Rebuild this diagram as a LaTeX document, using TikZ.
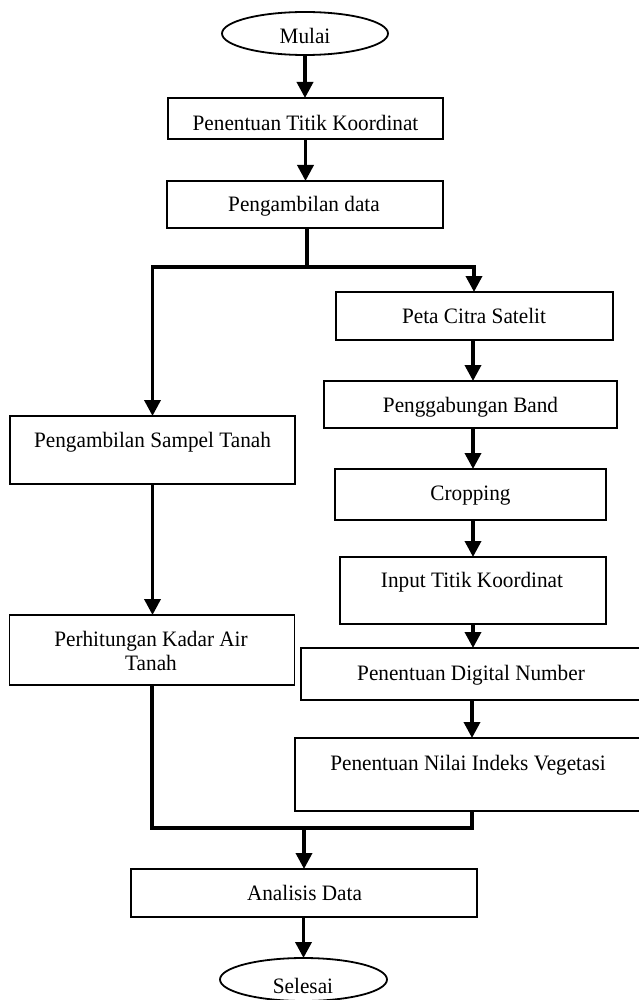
\documentclass[tikz,border=0pt]{standalone}
\usepackage{fontspec}
\setmainfont{Liberation Serif}[FakeStretch=0.965]
\usetikzlibrary{arrows.meta,shapes.geometric}
\begin{document}
\begin{tikzpicture}[x=1pt,y=-1pt,
  box/.style={draw, line width=1.8pt, rectangle, inner sep=0pt, outer sep=0pt},
  term/.style={draw, line width=1.8pt, ellipse, inner sep=0pt, outer sep=0pt},
  lbl/.style={anchor=base, inner sep=0pt, font=\fontsize{22}{24}\selectfont},
  conn/.style={line width=3.6pt},
  arr/.style={conn, -{Triangle[length=16pt,width=16pt]}},
  arr2/.style={conn, {Triangle[length=16pt,width=16pt]}-{Triangle[length=16pt,width=16pt]}},
]
\useasboundingbox (0,0) rectangle (638,1000);
\fill[white] (0,0) rectangle (638,1000);

% centre column
\node[term, minimum width=166pt, minimum height=43pt] (mulai) at (305,33.5) {};
\node[lbl] (mulai-t) at (305,44) {Mulai};
\node[box, minimum width=275pt, minimum height=41pt] (b1) at (305.5,118.5) {};
\node[lbl] (b1-t) at (305.5,131) {Penentuan Titik Koordinat};
\node[box, minimum width=276pt, minimum height=47pt] (b2) at (305,204.5) {};
\node[lbl] (b2-t) at (304,212) {Pengambilan data};

% left column
\node[box, minimum width=285pt, minimum height=68pt] (sampel) at (152.5,450) {};
\node[lbl] (sampel-t) at (152.5,447) {Pengambilan Sampel Tanah};
\node[box, minimum width=285pt, minimum height=70pt] (perhit) at (152,650) {};
\node[lbl] (perhit-t1) at (151,646) {Perhitungan Kadar Air};
\node[lbl] (perhit-t2) at (151,670) {Tanah};

% right column
\node[box, minimum width=277pt, minimum height=48pt] (peta) at (474.5,316) {};
\node[lbl] (peta-t) at (474,323) {Peta Citra Satelit};
\node[box, minimum width=293pt, minimum height=47pt] (pengg) at (470.5,404.5) {};
\node[lbl] (pengg-t) at (470.5,412) {Penggabungan Band};
\node[box, minimum width=271pt, minimum height=51pt] (crop) at (470.5,494.5) {};
\node[lbl] (crop-t) at (470.5,500) {Cropping};
\node[box, minimum width=266pt, minimum height=67pt] (input) at (473,590.5) {};
\node[lbl] (input-t) at (472,587) {Input Titik Koordinat};
\node[box, minimum width=344pt, minimum height=52pt] (digital) at (473,674) {};
\node[lbl] (digital-t) at (471,680) {Penentuan Digital Number};
\node[box, minimum width=350pt, minimum height=73pt] (nilai) at (470,774.5) {};
\node[lbl] (nilai-t) at (468,770) {Penentuan Nilai Indeks Vegetasi};

% bottom
\node[box, minimum width=346pt, minimum height=48pt] (analisis) at (304,893) {};
\node[lbl] (analisis-t) at (304.5,900) {Analisis Data};
\node[term, minimum width=167pt, minimum height=43pt] (selesai) at (303.5,979.5) {};
\node[lbl] (selesai-t) at (303,993) {Selesai};

% helper coordinates
\coordinate (jl) at (152.5,267);
\coordinate (jr) at (474,267);
\coordinate (jm) at (307,267);
\coordinate (ax) at (473,0);
\coordinate (jb) at (304,828);
\coordinate (nb) at (472,0);

% connectors
\draw[arr] (mulai.south) -- (mulai.south |- b1.north);
\draw[arr] (b1.south) -- (b1.south |- b2.north);
\draw[conn] (b2.south -| jm) -- (jm);
\draw[arr2] (jl |- sampel.north) -- (jl) -- (jr) -- (jr |- peta.north);
\draw[arr] (sampel.south) -- (sampel.south |- perhit.north);
\draw[arr] (peta.south -| ax) -- (pengg.north -| ax);
\draw[arr] (pengg.south -| ax) -- (crop.north -| ax);
\draw[arr] (crop.south -| ax) -- (input.north -| ax);
\draw[arr] (input.south -| ax) -- (digital.north -| ax);
\draw[arr] (digital.south -| nb) -- (nilai.north -| nb);
\draw[conn] (perhit.south) -- (perhit.south |- jb) -- (jb -| nb) -- (nilai.south -| nb);
\draw[arr] (jb) -- (jb |- analisis.north);
\draw[arr] (analisis.south -| selesai.north) -- (selesai.north);
\end{tikzpicture}
\end{document}
